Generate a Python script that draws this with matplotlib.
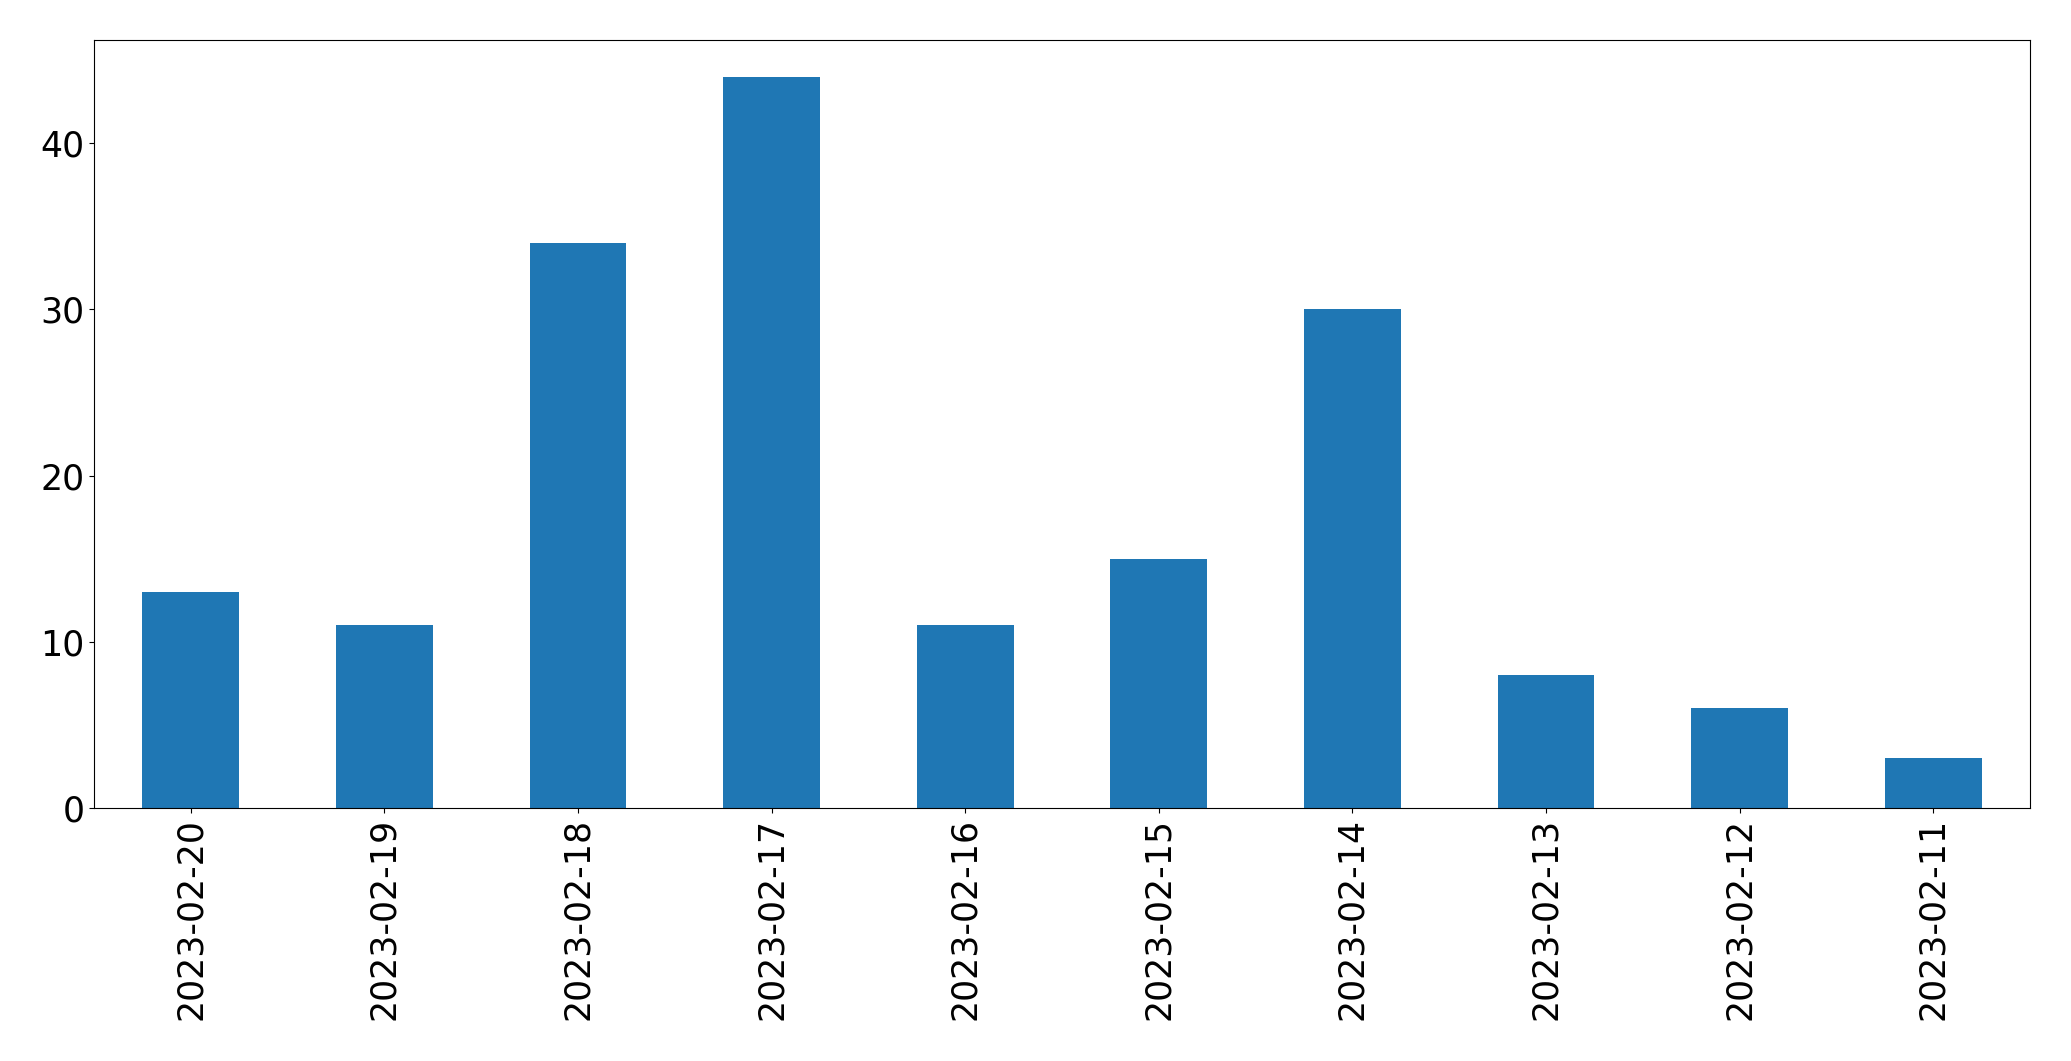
import numpy as np
import matplotlib

matplotlib.use("Agg")
import matplotlib.pyplot as plt

dates = [
    "2023-02-20", "2023-02-19", "2023-02-18", "2023-02-17", "2023-02-16",
    "2023-02-15", "2023-02-14", "2023-02-13", "2023-02-12", "2023-02-11",
]
counts = [13, 11, 34, 44, 11, 15, 30, 8, 6, 3]

fig = plt.figure(figsize=(20.71, 10.61), dpi=100)
ax = fig.add_axes([94 / 2071, 1 - 808 / 1061, (2030 - 94) / 2071, (808 - 40) / 1061])

x = np.arange(len(dates))
ax.bar(x, counts, width=0.5, color="#1f77b4")
ax.set_xlim(-0.5, len(dates) - 0.5)
ax.set_ylim(0, max(counts) * 1.05)
ax.set_xticks(x)
ax.set_xticklabels(dates, rotation=90)
ax.set_yticks([0, 10, 20, 30, 40])
ax.tick_params(labelsize=25)

fig.savefig("out.png", dpi=100)
